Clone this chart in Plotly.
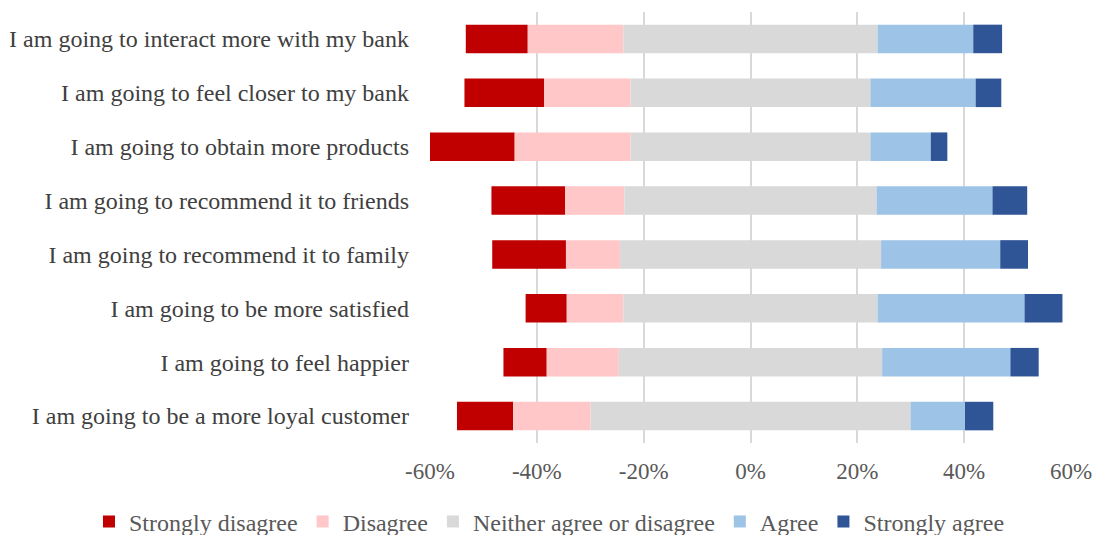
import plotly.graph_objects as go

# Survey statements (top to bottom) and response shares in percent
statements = [
    "I am going to interact more with my bank",
    "I am going to feel closer to my bank",
    "I am going to obtain more products",
    "I am going to recommend it to friends",
    "I am going to recommend it to family",
    "I am going to be more satisfied",
    "I am going to feel happier",
    "I am going to be a more loyal customer",
]
strongly_disagree = [11.6, 14.9, 16.0, 13.8, 13.8, 7.7, 8.1, 10.5]
disagree = [17.9, 16.2, 21.7, 11.1, 10.1, 10.6, 13.5, 14.5]
neutral = [47.6, 44.9, 44.9, 47.2, 48.9, 47.6, 49.3, 59.9]
agree = [17.9, 19.7, 11.3, 21.7, 22.3, 27.5, 24.0, 10.2]
strongly_agree = [5.4, 4.8, 3.1, 6.5, 5.2, 7.1, 5.3, 5.3]

tick_values = [-60, -40, -20, 0, 20, 40, 60]
tick_labels = ["-60%", "-40%", "-20%", "0%", "20%", "40%", "60%"]

series_names = ["Strongly disagree", "Disagree", "Neither agree or disagree",
                "Agree", "Strongly agree"]
colors = ["#C00000", "#FFC7C7", "#D9D9D9", "#9DC3E6", "#2F5597"]

# Diverging layout: neutral is centred on zero, disagreement extends left,
# agreement extends right.
half_n = [n / 2 for n in neutral]
base_n = [-h for h in half_n]
base_d = [-(h + d) for h, d in zip(half_n, disagree)]
base_sd = [-(h + d + s) for h, d, s in zip(half_n, disagree, strongly_disagree)]
base_a = half_n
base_sa = [h + a for h, a in zip(half_n, agree)]

segments = [
    (strongly_disagree, base_sd),
    (disagree, base_d),
    (neutral, base_n),
    (agree, base_a),
    (strongly_agree, base_sa),
]

fig = go.Figure()
for (vals, base), name, color in zip(segments, series_names, colors):
    fig.add_trace(go.Bar(
        y=statements, x=vals, base=base, name=name, orientation="h",
        marker=dict(color=color, line=dict(width=0)),
        hoverinfo="name+x",
    ))

serif = "Liberation Serif, Times New Roman, serif"

fig.update_layout(
    width=1095, height=535,
    margin=dict(l=430, r=24, t=12, b=92, autoexpand=False),
    barmode="overlay",
    bargap=0.47,
    plot_bgcolor="white",
    paper_bgcolor="white",
    font=dict(family=serif, size=23, color="#404040"),
    legend=dict(
        orientation="h",
        x=-0.532, y=-0.183, xanchor="left", yanchor="middle",
        font=dict(family=serif, size=24, color="#595959"),
        itemwidth=30,
        traceorder="normal",
    ),
    xaxis=dict(
        range=[-60, 60],
        tickvals=tick_values,
        ticktext=tick_labels,
        showgrid=True, gridcolor="#D9D9D9", gridwidth=1.5,
        zeroline=False, showline=False,
        ticks="", ticklabelstandoff=12,
        tickfont=dict(family=serif, size=23, color="#595959"),
        fixedrange=True,
    ),
    yaxis=dict(
        autorange="reversed",
        showgrid=False, zeroline=False, showline=False,
        ticks="", ticklabelstandoff=20,
        tickfont=dict(family=serif, size=24, color="#404040"),
        fixedrange=True,
    ),
)

fig.write_html("out.html")
